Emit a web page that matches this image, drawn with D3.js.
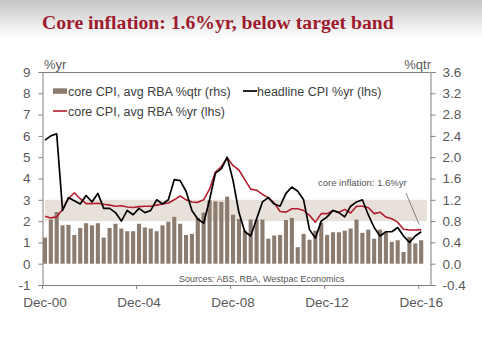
<!DOCTYPE html>
<html>
<head>
<meta charset="utf-8">
<script src="https://cdn.jsdelivr.net/npm/d3@7"></script>
<style>
  html, body { margin: 0; padding: 0; background: #ffffff; }
  svg { display: block; }
  text { font-family: "Liberation Sans", Arial, sans-serif; }
</style>
</head>
<body>
<svg id="chart" width="482" height="359"></svg>
<script>
// ---------------- DATA ----------------
const quarters = [
  "Dec-00","Mar-01","Jun-01","Sep-01","Dec-01","Mar-02","Jun-02","Sep-02",
  "Dec-02","Mar-03","Jun-03","Sep-03","Dec-03","Mar-04","Jun-04","Sep-04",
  "Dec-04","Mar-05","Jun-05","Sep-05","Dec-05","Mar-06","Jun-06","Sep-06",
  "Dec-06","Mar-07","Jun-07","Sep-07","Dec-07","Mar-08","Jun-08","Sep-08",
  "Dec-08","Mar-09","Jun-09","Sep-09","Dec-09","Mar-10","Jun-10","Sep-10",
  "Dec-10","Mar-11","Jun-11","Sep-11","Dec-11","Mar-12","Jun-12","Sep-12",
  "Dec-12","Mar-13","Jun-13","Sep-13","Dec-13","Mar-14","Jun-14","Sep-14",
  "Dec-14","Mar-15","Jun-15","Sep-15","Dec-15","Mar-16","Jun-16","Sep-16",
  "Dec-16","Mar-17"
];
// core CPI, avg RBA %qtr (rhs)
const coreQtr = [
  0.49,0.83,0.97,0.72,0.73,0.54,0.67,0.76,
  0.72,0.76,0.49,0.67,0.75,0.66,0.61,0.61,
  0.75,0.68,0.66,0.61,0.72,0.79,0.88,0.75,
  0.54,0.56,0.86,0.96,1.19,1.17,1.16,1.26,
  0.92,0.84,0.62,0.83,0.83,0.83,0.47,0.53,
  0.54,0.82,0.86,0.31,0.56,0.45,0.62,0.77,
  0.54,0.59,0.59,0.62,0.66,0.83,0.58,0.64,
  0.47,0.64,0.59,0.41,0.44,0.22,0.50,0.38,
  0.44
];
// headline CPI %yr (lhs)
const headlineYr = [
  5.8,6.0,6.1,2.5,3.1,2.95,2.8,3.2,
  2.9,3.3,2.6,2.6,2.4,2.0,2.5,2.3,
  2.6,2.4,2.5,3.0,2.8,3.0,3.95,3.9,
  3.4,2.5,2.1,1.9,3.0,4.25,4.45,5.0,
  3.9,2.4,1.5,1.3,2.1,2.9,3.1,2.8,
  2.7,3.3,3.6,3.4,3.0,1.6,1.2,2.0,
  2.2,2.5,2.4,2.2,2.7,2.9,3.0,2.3,
  1.7,1.3,1.5,1.5,1.7,1.3,1.0,1.3,
  1.5
];
// core CPI, avg RBA %yr (lhs)
const coreYr = [
  2.23,2.15,2.2,2.55,3.05,3.33,3.05,2.82,
  2.82,2.84,2.79,2.75,2.7,2.72,2.66,2.64,
  2.68,2.7,2.7,2.75,2.8,2.85,3.0,3.18,
  3.0,2.9,2.88,3.0,3.5,4.3,4.55,4.97,
  4.6,4.4,3.95,3.5,3.45,3.25,3.1,2.85,
  2.45,2.42,2.58,2.58,2.5,2.27,1.95,2.35,
  2.35,2.5,2.42,2.55,2.38,2.7,2.7,2.64,
  2.35,2.42,2.19,2.11,1.95,1.62,1.58,1.58,
  1.6
];
const targetBand = [2, 3];
const leftTicks = [9,8,7,6,5,4,3,2,1,0,-1];
const rightTicks = [3.6,3.2,2.8,2.4,2.0,1.6,1.2,0.8,0.4,0.0,-0.4];
const xTickLabels = ["Dec-00","Dec-04","Dec-08","Dec-12","Dec-16"];
const annotationValue = 1.6;

// ---------------- LAYOUT ----------------
const svg = d3.select("#chart");
const L = 42, R = 430, T = 72, B = 285;
const axisCol = "#808080", tickTextCol = "#595959", textCol = "#404040";

// background gradient at top
const defs = svg.append("defs");
const grad = defs.append("linearGradient").attr("id","topg").attr("x1",0).attr("y1",0).attr("x2",0).attr("y2",1);
grad.append("stop").attr("offset","0%").attr("stop-color","#c4c4c4");
grad.append("stop").attr("offset","100%").attr("stop-color","#ffffff");
svg.append("rect").attr("x",0).attr("y",0).attr("width",482).attr("height",38).attr("fill","url(#topg)");

// title
svg.append("text").attr("x",42).attr("y",28.5)
  .style("font-family","'Liberation Serif','Times New Roman',serif")
  .style("font-weight","bold").style("font-size","19.7px")
  .attr("fill","#9e1b2d")
  .text("Core inflation: 1.6%yr, below target band");

// scales
const x = d3.scaleBand().domain(quarters).range([L, R]).padding(0);
const bw = x.bandwidth();
const cx = q => x(q) + bw / 2;
const yL = d3.scaleLinear().domain([-1, 9]).range([B, T]);
const yR = d3.scaleLinear().domain([-0.4, 3.6]).range([B, T]);

// target band
const firstQ = quarters[0], lastQ = quarters[quarters.length - 1];
svg.append("rect")
  .attr("x", cx(firstQ)).attr("width", cx(lastQ) - cx(firstQ))
  .attr("y", yL(targetBand[1])).attr("height", yL(targetBand[0]) - yL(targetBand[1]))
  .attr("fill", "#e8e1d9");

// bars
svg.append("g").selectAll("rect").data(coreQtr).join("rect")
  .attr("x", (d,i) => x(quarters[i]) + bw * 0.15)
  .attr("width", bw * 0.7)
  .attr("y", d => Math.min(yR(d), yR(0)))
  .attr("height", d => Math.abs(yR(0) - yR(d)))
  .attr("fill", "#8c7c70");

// lines
const line = d3.line().x((d,i) => cx(quarters[i])).y(d => yL(d));
svg.append("path").datum(coreYr).attr("d", line)
  .attr("fill","none").attr("stroke","#b41f30").attr("stroke-width",1.6).attr("stroke-linejoin","round");
svg.append("path").datum(headlineYr).attr("d", line)
  .attr("fill","none").attr("stroke","#000000").attr("stroke-width",1.7).attr("stroke-linejoin","round");

// frame
svg.append("line").attr("x1",L).attr("x2",R).attr("y1",T+0.5).attr("y2",T+0.5).attr("stroke",axisCol);
svg.append("line").attr("x1",L).attr("x2",R).attr("y1",B+0.5).attr("y2",B+0.5).attr("stroke",axisCol);

// left axis
const axL = svg.append("g").attr("transform",`translate(${L+0.5},0)`)
  .call(d3.axisLeft(yL).tickValues(leftTicks).tickSize(4).tickPadding(8).tickFormat(d => String(d)));
// right axis
const axR = svg.append("g").attr("transform",`translate(${R+0.5},0)`)
  .call(d3.axisRight(yR).tickValues(rightTicks).tickSize(5).tickPadding(7).tickFormat(d => d.toFixed(1)));
// bottom axis: labels centered on category, ticks at category start
const axB = svg.append("g").attr("transform",`translate(0,${B+0.5})`)
  .call(d3.axisBottom(x).tickValues(xTickLabels).tickSize(0).tickPadding(12));
svg.append("g").selectAll("line").data(xTickLabels).join("line")
  .attr("x1", d => x(d) + 0.5).attr("x2", d => x(d) + 0.5)
  .attr("y1", B).attr("y2", B + 4).attr("stroke", axisCol);

[axL, axR, axB].forEach(g => {
  g.select(".domain").attr("stroke", axisCol);
  g.selectAll(".tick line").attr("stroke", axisCol);
  g.selectAll(".tick text").attr("fill", tickTextCol)
    .style("font-size","13.5px").style("font-family","'Liberation Sans', Arial, sans-serif");
});
axB.select(".domain").remove();

// axis unit labels
svg.append("text").attr("x",44).attr("y",69).attr("fill",tickTextCol)
  .style("font-size","13px").text("%yr");
svg.append("text").attr("x",431).attr("y",69).attr("text-anchor","end").attr("fill",tickTextCol)
  .style("font-size","13px").text("%qtr");

// legend
const lg = svg.append("g").style("font-size","12.5px").attr("fill",textCol);
lg.append("rect").attr("x",53).attr("y",88.3).attr("width",14).attr("height",5.5).attr("fill","#8c7c70");
lg.append("text").attr("x",68).attr("y",95.5).attr("fill",textCol).text("core CPI, avg RBA %qtr (rhs)");
lg.append("line").attr("x1",53).attr("x2",67).attr("y1",111).attr("y2",111).attr("stroke","#b41f30").attr("stroke-width",1.6);
lg.append("text").attr("x",68).attr("y",115.5).attr("fill",textCol).text("core CPI, avg RBA %yr (lhs)");
lg.append("line").attr("x1",243).attr("x2",257).attr("y1",91).attr("y2",91).attr("stroke","#000").attr("stroke-width",1.7);
lg.append("text").attr("x",257).attr("y",95.5).attr("fill",textCol).text("headline CPI %yr (lhs)");

// sources
svg.append("text").attr("x",179).attr("y",281.5).attr("fill","#555555")
  .style("font-size","9px").text("Sources: ABS, RBA, Westpac Economics");

// annotation
svg.append("text").attr("x",318).attr("y",185.5).attr("fill","#555555")
  .style("font-size","9.5px").text("core inflation: 1.6%yr");
const lastData = quarters[coreYr.length - 1];
svg.append("line").attr("x1",406).attr("y1",193)
  .attr("x2",cx(lastData) - 2).attr("y2",yL(annotationValue) - 5)
  .attr("stroke","#666666").attr("stroke-width",0.8);
</script>
</body>
</html>
